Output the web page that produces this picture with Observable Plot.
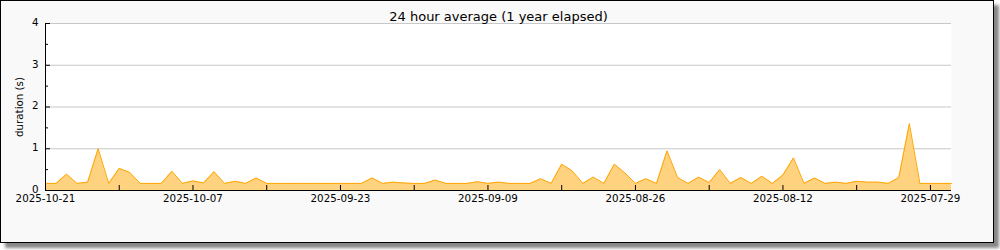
<!DOCTYPE html>
<html><head><meta charset="utf-8">
<script src="https://cdn.jsdelivr.net/npm/d3@7"></script>
<script src="https://cdn.jsdelivr.net/npm/@observablehq/plot@0.6"></script>
<style>
html,body{margin:0;padding:0;background:#fff;}
#box{position:absolute;left:0;top:0;width:992px;height:241px;border:1px solid #000;background:#f9f9f9;box-shadow:5px 5px 3px #888;}
#chart{position:absolute;left:0;top:0;}
</style></head><body><div id="box"></div><div id="chart"></div>
<script>
const title = "24 hour average (1 year elapsed)";
const yLabel = "duration (s)";
const startDate = "2025-10-21";
const endDate = "2025-07-27";
// one value per day, going back in time from startDate
const durations = [
  0.17, 0.17, 0.39, 0.17, 0.20, 1.00, 0.17, 0.53, 0.43, 0.17,
  0.17, 0.17, 0.46, 0.17, 0.23, 0.18, 0.45, 0.17, 0.22, 0.17,
  0.30, 0.17, 0.17, 0.17, 0.17, 0.17, 0.17, 0.17, 0.17, 0.17,
  0.17, 0.30, 0.17, 0.20, 0.18, 0.17, 0.17, 0.25, 0.17, 0.17,
  0.17, 0.21, 0.17, 0.20, 0.17, 0.17, 0.17, 0.28, 0.17, 0.63,
  0.47, 0.17, 0.32, 0.17, 0.63, 0.42, 0.17, 0.28, 0.17, 0.95,
  0.31, 0.17, 0.32, 0.19, 0.50, 0.17, 0.31, 0.17, 0.34, 0.17,
  0.37, 0.78, 0.17, 0.30, 0.17, 0.20, 0.17, 0.22, 0.20, 0.20,
  0.17, 0.31, 1.60, 0.17, 0.17, 0.17, 0.17
];
const xTickLabels = ["2025-10-21","2025-10-07","2025-09-23","2025-09-09","2025-08-26","2025-08-12","2025-07-29"];
const xMinorTicks = ["2025-10-14","2025-09-30","2025-09-16","2025-09-02","2025-08-19","2025-08-05"];
const yTicks = [0, 1, 2, 3, 4];
const yMinorTicks = [0.5, 1.5, 2.5, 3.5];

const start = new Date(startDate);
const data = durations.map((v, i) => ({date: d3.utcDay.offset(start, -i), value: v}));
const majorX = xTickLabels.map(s => new Date(s));
const minorX = xMinorTicks.map(s => new Date(s));
const fmt = d3.utcFormat("%Y-%m-%d");

const chart = Plot.plot({
  width: 1000,
  height: 250,
  marginLeft: 45,
  marginRight: 49,
  marginTop: 23,
  marginBottom: 60,
  style: {fontFamily: "DejaVu Sans", fontSize: "10.3px", background: "transparent", overflow: "visible", color: "#000"},
  x: {type: "utc", domain: [start, new Date(endDate)]},
  y: {domain: [0, 4]},
  marks: [
    Plot.frame({fill: "white", stroke: null}),
    Plot.gridY(yTicks, {stroke: "#c8c8c8", strokeOpacity: 1}),
    Plot.areaY(data, {x: "date", y: "value", fill: "#ffd280", fillOpacity: 1}),
    Plot.lineY(data, {x: "date", y: "value", stroke: "#ffa500", strokeWidth: 1}),
    Plot.ruleY([0], {stroke: "#000"}),
    Plot.ruleX([start], {stroke: "#000"}),
    Plot.axisY({ticks: yTicks, tickSize: -5, text: null, label: null}),
    Plot.axisY({ticks: yMinorTicks, tickSize: -3, text: null, label: null}),
    Plot.axisY({ticks: yTicks, tickSize: 0, tickPadding: 7, dy: -1, tickFormat: d3.format("d"), label: null}),
    Plot.axisX({ticks: [...majorX, ...minorX], tickSize: -5, text: null, label: null}),
    Plot.axisX({ticks: majorX, tickSize: 0, tickPadding: 4, tickFormat: fmt, label: null}),
    Plot.text([yLabel], {frameAnchor: "left", textAnchor: "middle", rotate: -90, dx: -26, fontSize: 10.3}),
    Plot.text([title], {frameAnchor: "top", dy: -12, fontSize: 13})
  ]
});
document.getElementById("chart").appendChild(chart);
</script>
</body></html>
